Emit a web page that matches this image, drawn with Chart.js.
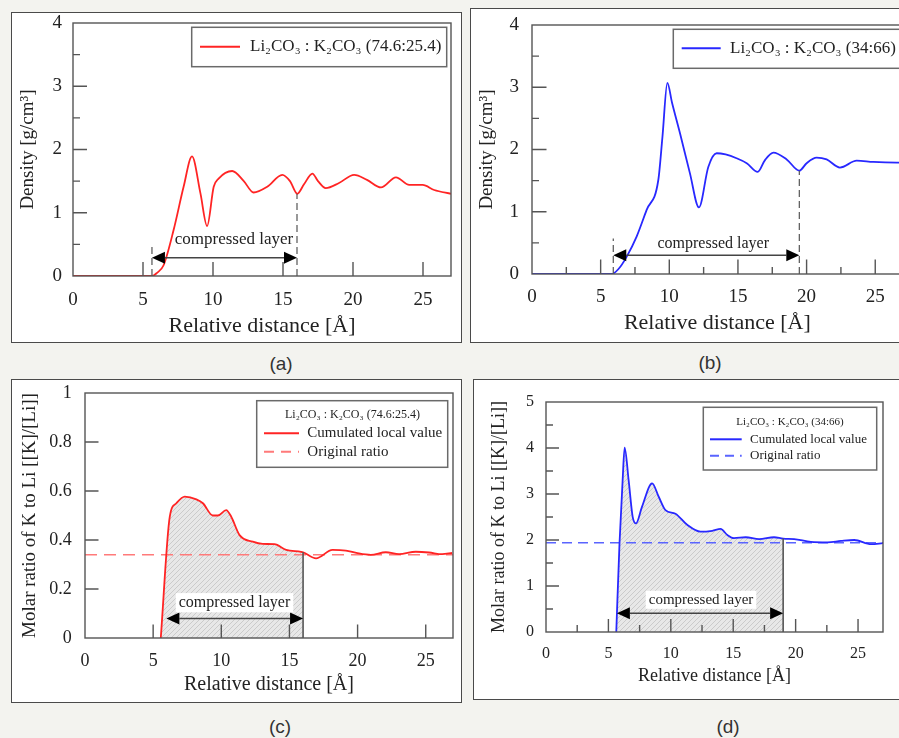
<!DOCTYPE html>
<html lang="en">
<head>
<meta charset="UTF-8">
<title>Density and K/Li ratio profiles</title>
<script src="https://cdn.jsdelivr.net/npm/chart.js"></script>
<style>
  body { margin: 0; width: 899px; height: 738px; overflow: hidden; position: relative; background: #f3f3ef; }
  .panel { position: absolute; background: #fff; border: 1.5px solid #4a4a4a; box-sizing: border-box; }
  canvas { position: absolute; }
  .cap { position: absolute; font-family: 'Liberation Sans', Arial, sans-serif; font-size: 19px; line-height: 19px; color: #333; transform: translateX(-50%); }
</style>
</head>
<body>
<div class="panel" style="left:11px; top:12px; width:451px; height:331px;"></div>
<div class="panel" style="left:470px; top:8px; width:440px; height:335px;"></div>
<div class="panel" style="left:11px; top:379px; width:451px; height:324px;"></div>
<div class="panel" style="left:473px; top:379px; width:440px; height:321px;"></div>

<canvas id="chartA" width="447" height="327" style="left:13px; top:14px;"></canvas>
<canvas id="chartB" width="440" height="331" style="left:472px; top:10px;"></canvas>
<canvas id="chartC" width="447" height="320" style="left:13px; top:381px;"></canvas>
<canvas id="chartD" width="424" height="317" style="left:475px; top:381px;"></canvas>

<div class="cap" style="left:281px; top:354px;">(a)</div>
<div class="cap" style="left:710px; top:353px;">(b)</div>
<div class="cap" style="left:280px; top:717px;">(c)</div>
<div class="cap" style="left:728px; top:717px;">(d)</div>

<script>
// (a) density, Li2CO3:K2CO3 = 74.6:25.4
const distA = [0, 2, 4, 5.3, 5.64, 6.0, 6.47, 7.19, 7.9, 8.5, 9.1, 9.58, 10.05, 10.4, 11.37, 12.2, 12.9, 13.87, 14.95, 15.5, 16.02, 16.5, 17.1, 17.5, 18.05, 19.0, 20.08, 21.0, 22.0, 23.07, 24.02, 24.98, 25.8, 27.0];
const densA = [0, 0, 0, 0, 0, 0.05, 0.17, 0.73, 1.41, 1.89, 1.31, 0.79, 1.41, 1.54, 1.66, 1.5, 1.32, 1.41, 1.6, 1.5, 1.30, 1.45, 1.62, 1.5, 1.39, 1.47, 1.6, 1.52, 1.40, 1.56, 1.44, 1.44, 1.36, 1.30];
const layerA = [5.64, 16.0];
const guideA = [0.52, 1.30];

// (b) density, Li2CO3:K2CO3 = 34:66
const distB = [0, 3, 5.8, 6.3, 6.9, 7.62, 8.35, 9.2, 9.5, 9.86, 10.2, 10.78, 11.5, 12.16, 12.84, 13.45, 14.1, 14.9, 15.64, 16.44, 16.97, 17.58, 18.55, 19.47, 20.0, 20.73, 21.46, 22.43, 23.65, 24.86, 26.56, 27];
const densB = [0, 0, 0, 0.08, 0.28, 0.6, 1.03, 1.51, 2.2, 3.07, 2.75, 2.26, 1.62, 1.07, 1.72, 1.94, 1.92, 1.86, 1.78, 1.64, 1.83, 1.95, 1.84, 1.66, 1.78, 1.87, 1.84, 1.71, 1.82, 1.80, 1.79, 1.79];
const layerB = [5.92, 19.47];
const guideB = [0.57, 1.66];

// (c) molar ratio K/Li, 74.6:25.4
const distC = [5.56, 6.22, 6.7, 7.32, 8.17, 8.65, 9.38, 9.75, 10.36, 10.73, 11.34, 12.31, 13.04, 13.9, 14.76, 15.85, 16.0, 16.95, 18.16, 19.14, 19.99, 20.97, 22.07, 23.04, 24.27, 25.24, 26.2, 26.94];
const ratioC = [0, 0.495, 0.55, 0.577, 0.566, 0.55, 0.50, 0.50, 0.522, 0.495, 0.42, 0.393, 0.384, 0.383, 0.36, 0.352, 0.35, 0.325, 0.36, 0.357, 0.346, 0.339, 0.35, 0.342, 0.352, 0.349, 0.342, 0.347];
const origC = 0.34;
const layerC = [5.97, 16.0];
const guideC = [0, 0.35];

// (d) molar ratio K/Li, 34:66
const distD = [5.63, 5.89, 6.14, 6.3, 6.62, 6.94, 7.21, 7.69, 8.5, 9.03, 9.57, 10.37, 11.31, 12.38, 13.32, 13.99, 14.53, 15.06, 16.0, 17.07, 18.27, 19.0, 19.88, 21.22, 22.56, 23.63, 24.7, 26.05, 27];
const ratioD = [0, 1.93, 3.3, 4.01, 3.3, 2.51, 2.36, 2.72, 3.23, 2.94, 2.65, 2.57, 2.33, 2.18, 2.2, 2.24, 2.11, 2.04, 2.06, 2.02, 2.06, 2.03, 2.02, 1.96, 1.95, 1.98, 2.0, 1.91, 1.93];
const origD = 1.94;
const layerD = [5.68, 19.0];
const guideD = [0, 2.03];

const SERIF = "'Liberation Serif', 'Times New Roman', serif";
const INK = '#222';

function hatchPattern() {
    const c = document.createElement('canvas');
    c.width = 5; c.height = 5;
    const g = c.getContext('2d');
    g.fillStyle = '#e8e8e8';
    g.fillRect(0, 0, 5, 5);
    g.strokeStyle = '#cbcbcb';
    g.lineWidth = 1;
    g.beginPath();
    g.moveTo(0, 5); g.lineTo(5, 0);
    g.moveTo(-1, 1); g.lineTo(1, -1);
    g.moveTo(4, 6); g.lineTo(6, 4);
    g.stroke();
    return g.createPattern(c, 'repeat');
}

function seg(ctx, x0, y0, x1, y1) {
    ctx.beginPath(); ctx.moveTo(x0, y0); ctx.lineTo(x1, y1); ctx.stroke();
}

function figPlugin(c) {
    return {
        id: 'fig',
        afterDatasetsDraw(chart) {
            const { ctx, chartArea: a, scales: { x, y } } = chart;
            ctx.save();
            const xl = x.getPixelForValue(c.layer[0]);
            const xr = x.getPixelForValue(c.layer[1]);
            const y0 = y.getPixelForValue(0);

            // guides marking the compressed layer
            ctx.strokeStyle = '#555';
            if (c.hatch) {
                ctx.lineWidth = 1.6;
                seg(ctx, xr, y0, xr, y.getPixelForValue(c.guide[1]));
            } else {
                ctx.lineWidth = 1.2;
                ctx.setLineDash([7, 4]);
                seg(ctx, xl, y0, xl, y.getPixelForValue(c.guide[0]));
                seg(ctx, xr, y0, xr, y.getPixelForValue(c.guide[1]));
                ctx.setLineDash([]);
            }

            // double arrow
            const ay = y.getPixelForValue(c.arrowY);
            const hl = 13, hw = 6;
            ctx.strokeStyle = '#444';
            ctx.lineWidth = 1.5;
            seg(ctx, xl + hl, ay, xr - hl, ay);
            ctx.fillStyle = '#000';
            ctx.beginPath(); ctx.moveTo(xl, ay); ctx.lineTo(xl + hl, ay - hw); ctx.lineTo(xl + hl, ay + hw); ctx.closePath(); ctx.fill();
            ctx.beginPath(); ctx.moveTo(xr, ay); ctx.lineTo(xr - hl, ay - hw); ctx.lineTo(xr - hl, ay + hw); ctx.closePath(); ctx.fill();

            // "compressed layer" text
            ctx.font = c.labelSize + 'px ' + SERIF;
            ctx.textAlign = 'center';
            ctx.textBaseline = 'middle';
            const lx = x.getPixelForValue(c.labelAt[0]);
            const ly = y.getPixelForValue(c.labelAt[1]);
            if (c.hatch) {
                const w = ctx.measureText('compressed layer').width;
                ctx.fillStyle = '#fff';
                ctx.fillRect(lx - w / 2 - 3, ly - c.labelSize * 0.6, w + 6, c.labelSize * 1.2);
            }
            ctx.fillStyle = INK;
            ctx.fillText('compressed layer', lx, ly);

            // frame and inward ticks
            ctx.strokeStyle = '#555';
            ctx.lineWidth = 1.4;
            ctx.beginPath();
            for (let v = c.xMinor; v < x.max - 1e-6; v += c.xMinor) {
                const major = Math.abs(v / 5 - Math.round(v / 5)) < 1e-6;
                const px = x.getPixelForValue(v);
                ctx.moveTo(px, a.bottom);
                ctx.lineTo(px, a.bottom - (major ? c.tick[0] : c.tick[1]));
            }
            for (let v = c.yMinor; v < y.max - 1e-6; v += c.yMinor) {
                const major = Math.abs(v / c.yStep - Math.round(v / c.yStep)) < 1e-6;
                const py = y.getPixelForValue(v);
                ctx.moveTo(a.left, py);
                ctx.lineTo(a.left + (major ? c.tick[0] : c.tick[1]), py);
            }
            ctx.stroke();
            ctx.strokeRect(a.left, a.top, a.width, a.height);

            // legend
            const L = c.legend;
            ctx.fillStyle = '#fff';
            ctx.fillRect(L.box[0], L.box[1], L.box[2] - L.box[0], L.box[3] - L.box[1]);
            ctx.strokeStyle = '#6a6a6a';
            ctx.lineWidth = 1.5;
            ctx.strokeRect(L.box[0], L.box[1], L.box[2] - L.box[0], L.box[3] - L.box[1]);
            if (L.title) {
                ctx.font = L.title.size + 'px ' + SERIF;
                ctx.fillStyle = INK;
                ctx.textAlign = 'center';
                ctx.fillText(L.title.text, L.title.x, L.title.y);
            }
            ctx.textAlign = 'left';
            L.rows.forEach(r => {
                ctx.strokeStyle = r.color;
                ctx.lineWidth = 2;
                ctx.setLineDash(r.dash || []);
                seg(ctx, r.x0, r.y, r.x1, r.y);
                ctx.setLineDash([]);
                ctx.font = r.size + 'px ' + SERIF;
                ctx.fillStyle = INK;
                ctx.fillText(r.text, r.tx, r.y);
            });
            ctx.restore();
        }
    };
}

function makeChart(id, c) {
    const curve = c.xs.map((v, i) => ({ x: v, y: c.ys[i] }));
    const datasets = [{
        data: curve, borderColor: c.color, borderWidth: 1.8, pointRadius: 0,
        cubicInterpolationMode: 'monotone', fill: false, order: 0
    }];
    if (c.orig !== undefined) {
        datasets.push({
            data: [{ x: 0, y: c.orig }, { x: 27, y: c.orig }], borderColor: c.dashColor,
            borderWidth: 1.5, borderDash: c.dash, pointRadius: 0, fill: false, order: 1
        });
    }
    if (c.hatch) {
        datasets.push({
            data: curve.filter(p => p.x <= c.layer[1]), borderWidth: 0, pointRadius: 0,
            cubicInterpolationMode: 'monotone', fill: 'origin', backgroundColor: hatchPattern(), order: 2
        });
    }
    return new Chart(document.getElementById(id), {
        type: 'line',
        data: { datasets: datasets },
        options: {
            responsive: false,
            animation: false,
            events: [],
            layout: { padding: { left: 0, top: c.pad[0], right: c.pad[1], bottom: c.pad[2] } },
            plugins: { legend: { display: false }, tooltip: { enabled: false } },
            scales: {
                x: {
                    type: 'linear', min: 0, max: 27,
                    grid: { display: false, drawTicks: false },
                    border: { display: false },
                    ticks: { stepSize: 5, includeBounds: false, padding: c.xTickPad, color: INK, maxRotation: 0, autoSkip: false,
                             font: { family: SERIF, size: c.tickSize } },
                    title: { display: true, text: 'Relative distance [Å]', color: INK, padding: 0,
                             font: { family: SERIF, size: c.xTitleSize } },
                    afterFit: s => { s.height = c.xH; s.paddingLeft = 0; s.paddingRight = 0; }
                },
                y: {
                    type: 'linear', min: 0, max: c.yMax,
                    grid: { display: false, drawTicks: false },
                    border: { display: false },
                    ticks: { stepSize: c.yStep, padding: c.yTickPad, color: INK,
                             font: { family: SERIF, size: c.tickSize },
                             callback: v => String(Number(v.toFixed(2))) },
                    title: { display: true, text: c.yTitle, color: INK, padding: { top: c.yTitlePad, bottom: 0 },
                             font: { family: SERIF, size: c.yTitleSize } },
                    afterFit: s => { s.width = c.yW; s.paddingTop = 0; s.paddingBottom = 0; }
                }
            }
        },
        plugins: [figPlugin(c)]
    });
}

makeChart('chartA', {
    xs: distA, ys: densA, color: '#ff2424', layer: layerA, guide: guideA,
    arrowY: 0.29, labelAt: [11.5, 0.57], labelSize: 17,
    yMax: 4, yStep: 1, yMinor: 0.5, xMinor: 5, tick: [14, 7],
    yTitle: 'Density [g/cm³]', pad: [9, 9, 1.1], xH: 63.9, yW: 60,
    tickSize: 19, xTickPad: 12.6, yTickPad: 11, xTitleSize: 22, yTitleSize: 19, yTitlePad: 3.6,
    legend: { box: [178.7, 13.3, 433.7, 52.7],
              rows: [{ y: 32.7, x0: 187, x1: 227, tx: 237, size: 17, color: '#ff2424', text: 'Li₂CO₃ : K₂CO₃ (74.6:25.4)' }] }
});

makeChart('chartB', {
    xs: distB, ys: densB, color: '#2828ff', layer: layerB, guide: guideB,
    arrowY: 0.30, labelAt: [13.2, 0.48], labelSize: 16,
    yMax: 4, yStep: 1, yMinor: 0.5, xMinor: 2.5, tick: [14.5, 7],
    yTitle: 'Density [g/cm³]', pad: [15, 9.3, 4.5], xH: 62.5, yW: 60,
    tickSize: 19, xTickPad: 11.3, yTickPad: 13, xTitleSize: 22, yTitleSize: 19, yTitlePad: 3.3,
    legend: { box: [201.3, 19.3, 432, 58.3],
              rows: [{ y: 38.3, x0: 209.7, x1: 248.7, tx: 258, size: 17, color: '#2828ff', text: 'Li₂CO₃ : K₂CO₃ (34:66)' }] }
});

makeChart('chartC', {
    xs: distC, ys: ratioC, color: '#ff2424', hatch: true, orig: origC, dashColor: '#ff7a7a', dash: [12, 7],
    layer: layerC, guide: guideC, arrowY: 0.08, labelAt: [10.97, 0.144], labelSize: 16,
    yMax: 1, yStep: 0.2, yMinor: 0.2, xMinor: 5, tick: [13.5, 13.5],
    yTitle: 'Molar ratio of K to Li [[K]/[Li]]', pad: [12, 7, 4], xH: 59, yW: 72,
    tickSize: 18, xTickPad: 12.9, yTickPad: 13.3, xTitleSize: 20, yTitleSize: 19, yTitlePad: 5.6,
    legend: { box: [243.7, 19.7, 434.7, 86.3],
              title: { text: 'Li₂CO₃ : K₂CO₃ (74.6:25.4)', x: 339.5, y: 34, size: 12 },
              rows: [{ y: 52.3, x0: 251, x1: 286, tx: 294.3, size: 15, color: '#ff2424', text: 'Cumulated local value' },
                     { y: 70.7, x0: 251, x1: 286, tx: 294.3, size: 15, color: '#ff7a7a', dash: [10, 7], text: 'Original ratio' }] }
});

makeChart('chartD', {
    xs: distD, ys: ratioD, color: '#2828ff', hatch: true, orig: origD, dashColor: '#5a64ff', dash: [10, 6],
    layer: layerD, guide: guideD, arrowY: 0.41, labelAt: [12.42, 0.70], labelSize: 15,
    yMax: 5, yStep: 1, yMinor: 0.5, xMinor: 2.5, tick: [13, 7],
    yTitle: 'Molar ratio of K to Li [[K]/[Li]]', pad: [21, 16, 11.2], xH: 54.8, yW: 71,
    tickSize: 16, xTickPad: 11.7, yTickPad: 12, xTitleSize: 18, yTitleSize: 18, yTitlePad: 13.5,
    legend: { box: [228.3, 26.3, 401.7, 89],
              title: { text: 'Li₂CO₃ : K₂CO₃ (34:66)', x: 315, y: 40.7, size: 11 },
              rows: [{ y: 58.3, x0: 235, x1: 266.7, tx: 275, size: 13, color: '#2828ff', text: 'Cumulated local value' },
                     { y: 74.7, x0: 235, x1: 266.7, tx: 275, size: 13, color: '#5a64ff', dash: [9, 6], text: 'Original ratio' }] }
});
</script>
</body>
</html>
